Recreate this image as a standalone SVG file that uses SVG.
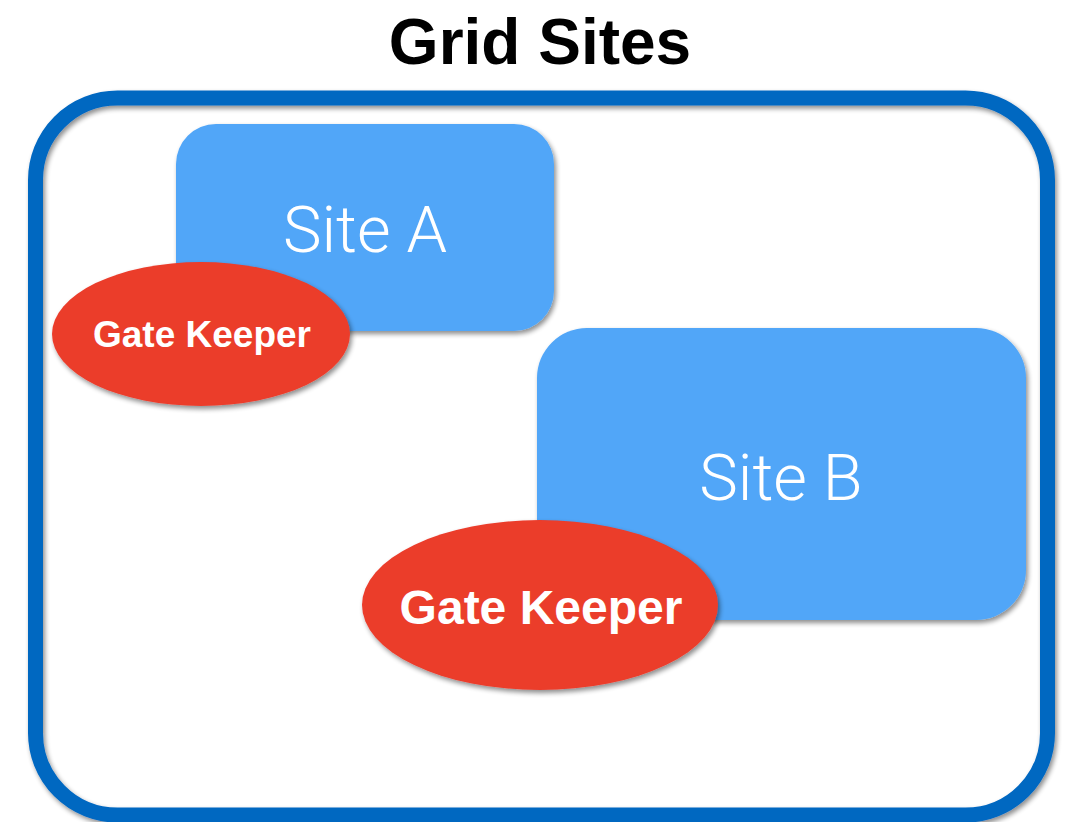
<svg xmlns="http://www.w3.org/2000/svg" width="1066" height="822" viewBox="0 0 1066 822">
<defs>
<filter id="sh" x="-10%" y="-10%" width="120%" height="125%">
<feGaussianBlur in="SourceAlpha" stdDeviation="2.5"/>
<feOffset dx="2" dy="3" result="b"/>
<feComponentTransfer><feFuncA type="linear" slope="0.45"/></feComponentTransfer>
<feMerge><feMergeNode/><feMergeNode in="SourceGraphic"/></feMerge>
</filter>
<style>
.site{fill:#51A6F8;filter:url(#sh);}
.gk{fill:#EB3C2C;filter:url(#sh);}
.st{font-family:Roboto,"Liberation Sans",sans-serif;font-weight:300;fill:#fff;text-anchor:middle;}
.gt{font-family:"Liberation Sans",Arial,sans-serif;font-weight:bold;fill:#fff;text-anchor:middle;}
</style>
</defs>
<rect width="1066" height="822" fill="#fff"/>
<text x="540" y="64" font-family="Liberation Sans, Arial, sans-serif" font-weight="bold" font-size="64" text-anchor="middle" fill="#000">Grid Sites</text>
<g id="frame">
<rect x="35.5" y="98" width="1012" height="717" rx="82" fill="none" stroke="#0567C1" stroke-width="15" filter="url(#sh)"/>
</g>
<g id="connectors"></g>
<g id="siteA">
<rect class="site" x="176" y="124" width="378" height="207" rx="40"/>
<text class="st" x="365" y="252" font-size="65">Site A</text>
</g>
<g id="gateKeeperA">
<ellipse class="gk" cx="201" cy="334" rx="149" ry="72"/>
<text class="gt" x="202" y="347" font-size="37">Gate Keeper</text>
</g>
<g id="siteB">
<rect class="site" x="537" y="328" width="489" height="292" rx="50"/>
<text class="st" x="781" y="500" font-size="65">Site B</text>
</g>
<g id="gateKeeperB">
<ellipse class="gk" cx="540" cy="605" rx="178" ry="85"/>
<text class="gt" x="541" y="624" font-size="48">Gate Keeper</text>
</g>
</svg>
